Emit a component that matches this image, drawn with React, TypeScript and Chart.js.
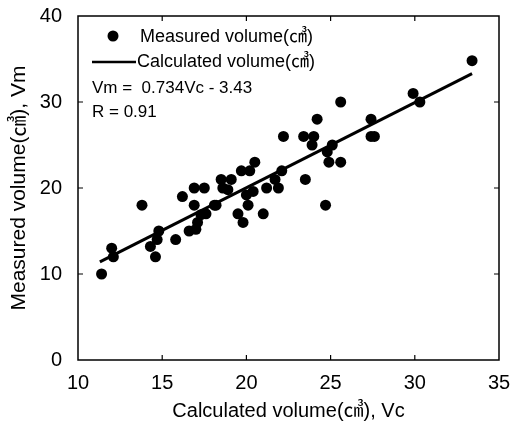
import React, { useEffect, useRef } from "react";
import { Chart, registerables } from "chart.js";

Chart.register(...registerables);

const measuredLabel = "Measured volume(㎤)";
const calculatedLabel = "Calculated volume(㎤)";
const equationText = "Vm =  0.734Vc - 3.43";
const rText = "R = 0.91";
const xTitle = "Calculated volume(㎤), Vc";
const yTitle = "Measured volume(㎤), Vm";

const measuredX = [
  11.4, 12.0, 12.1, 13.8, 14.3, 14.6, 14.8, 14.7, 15.8, 16.2,
  16.6, 17.0, 17.1, 16.9, 17.5, 16.9, 17.6, 18.2, 18.5, 19.1,
  18.6, 18.9, 19.5, 19.8, 19.7, 20.2, 20.0, 20.4, 20.1, 20.5,
  21.0, 21.2, 21.9, 22.1, 21.7, 22.2, 23.5, 24.7, 23.4, 24.0,
  23.9, 24.2, 24.8, 25.1, 24.9, 25.6, 25.6, 27.4, 27.4, 27.6,
  29.9, 30.3, 33.4, 17.3, 18.1,
];
const measuredY = [
  10, 13, 12, 18, 13.2, 12, 15, 14, 14, 19,
  15, 15.2, 16, 20, 20, 18, 17, 18, 21, 21,
  20, 19.8, 17, 16, 22, 22, 19.2, 19.6, 18, 23,
  17, 20, 20, 22, 21, 26, 21, 18, 26, 26,
  25, 28, 24.2, 25, 23, 23, 30, 28, 26, 26,
  31, 30, 34.8, 16.9, 18,
];
const lineX = [11.3, 33.4];
const lineY = [11.4, 33.3];

const xMin = 10, xMax = 35, xStep = 5;
const yMin = 0, yMax = 40, yStep = 10;

const FONT = "'Liberation Sans', Arial, 'Noto Sans CJK JP', sans-serif";

export default function App() {
  const ref = useRef<HTMLCanvasElement | null>(null);
  useEffect(() => {
    if (!ref.current) return;
    const framePlugin = {
      id: "frame",
      afterDatasetsDraw(chart: any) {
        const { ctx, chartArea: a, scales } = chart;
        ctx.save();
        ctx.strokeStyle = "#000";
        ctx.lineWidth = 1.5;
        ctx.strokeRect(a.left, a.top, a.right - a.left, a.bottom - a.top);
        ctx.lineWidth = 1.2;
        const xs = scales.x, ys = scales.y;
        xs.ticks.forEach((t: any) => {
          const p = xs.getPixelForValue(t.value);
          if (p <= a.left + 1 || p >= a.right - 1) return;
          ctx.beginPath();
          ctx.moveTo(p, a.bottom);
          ctx.lineTo(p, a.bottom - 5);
          ctx.moveTo(p, a.top);
          ctx.lineTo(p, a.top + 5);
          ctx.stroke();
        });
        ys.ticks.forEach((t: any) => {
          const p = ys.getPixelForValue(t.value);
          if (p <= a.top + 1 || p >= a.bottom - 1) return;
          ctx.beginPath();
          ctx.moveTo(a.left, p);
          ctx.lineTo(a.left + 5, p);
          ctx.moveTo(a.right, p);
          ctx.lineTo(a.right - 5, p);
          ctx.stroke();
        });
        // legend
        ctx.fillStyle = "#000";
        ctx.font = `18px ${FONT}`;
        ctx.textBaseline = "middle";
        ctx.textAlign = "left";
        ctx.beginPath();
        ctx.arc(113, 36, 5.5, 0, Math.PI * 2);
        ctx.fill();
        ctx.fillText(chart.data.datasets[0].label, 140, 37);
        ctx.lineWidth = 2.5;
        ctx.beginPath();
        ctx.moveTo(92, 62);
        ctx.lineTo(136, 62);
        ctx.stroke();
        ctx.fillText(chart.data.datasets[1].label, 137, 62);
        ctx.font = `17px ${FONT}`;
        ctx.fillText(equationText, 92, 88);
        ctx.fillText(rText, 92, 112);
        ctx.restore();
      },
    };
    const chart = new Chart(ref.current, {
      type: "scatter",
      data: {
        datasets: [
          {
            label: measuredLabel,
            data: measuredX.map((x, i) => ({ x, y: measuredY[i] })),
            pointRadius: 5.5,
            pointBackgroundColor: "#000",
            pointBorderColor: "#000",
            pointBorderWidth: 0,
            showLine: false,
          },
          {
            label: calculatedLabel,
            type: "line",
            data: lineX.map((x, i) => ({ x, y: lineY[i] })),
            borderColor: "#000",
            borderWidth: 3,
            pointRadius: 0,
            showLine: true,
            fill: false,
          } as any,
        ],
      },
      options: {
        animation: false,
        responsive: false,
        layout: { padding: { top: 16, right: 12, left: 0, bottom: 0 } },
        plugins: { legend: { display: false }, tooltip: { enabled: false } },
        scales: {
          x: {
            type: "linear",
            min: xMin,
            max: xMax,
            ticks: { stepSize: xStep, color: "#000", padding: 11, font: { size: 20, family: FONT } },
            grid: { display: false, drawTicks: false },
            border: { display: false },
            title: { display: true, text: xTitle, color: "#000", font: { size: 20, family: FONT }, padding: { top: 0, bottom: 9 } },
            afterFit(s: any) { s.height = 72; s.paddingLeft = 0; s.paddingRight = 0; },
          },
          y: {
            type: "linear",
            min: yMin,
            max: yMax,
            ticks: { stepSize: yStep, color: "#000", padding: 16, font: { size: 20, family: FONT } },
            grid: { display: false, drawTicks: false },
            border: { display: false },
            title: { display: true, text: yTitle, color: "#000", font: { size: 21, family: FONT }, padding: { top: 7, bottom: 0 } },
            afterFit(s: any) { s.width = 78; s.paddingTop = 0; s.paddingBottom = 0; },
          },
        },
      },
      plugins: [framePlugin],
    });
    return () => chart.destroy();
  }, []);
  return (
    <div style={{ position: "absolute", left: 0, top: 0, width: 511, height: 432, background: "#fff" }}>
      <canvas ref={ref} width={511} height={432} style={{ display: "block" }} />
    </div>
  );
}
